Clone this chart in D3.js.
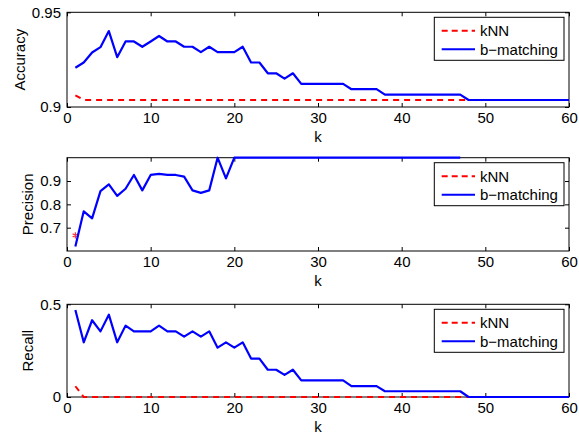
<!DOCTYPE html>
<html>
<head>
<meta charset="utf-8">
<script src="https://cdn.jsdelivr.net/npm/d3@7"></script>
<style>
  body { margin: 0; background: #fff; }
  svg { display: block; font-family: "Liberation Sans", Arial, Helvetica, sans-serif; }
  .tick text { font-size: 15px; fill: #000; }
  .lbl { font-size: 15px; fill: #000; }
</style>
</head>
<body>
<div id="chart"></div>
<script>
// k = 1..60
const ks = d3.range(1, 61)

const accKnn = [0.9062].concat(d3.range(59).map(() => 0.9037))
const accBm = [
  0.9207, 0.9235, 0.9288, 0.9316, 0.9401, 0.9263, 0.9346, 0.9346, 0.9318, 0.9346,
  0.9375, 0.9346, 0.9346, 0.9318, 0.9318, 0.9290, 0.9318, 0.9290, 0.9290, 0.9290,
  0.9318, 0.9235, 0.9235, 0.9178, 0.9178, 0.9150, 0.9178, 0.9122, 0.9122, 0.9122,
  0.9122, 0.9122, 0.9122, 0.9094, 0.9094, 0.9094, 0.9094, 0.9065, 0.9065, 0.9065,
  0.9065, 0.9065, 0.9065, 0.9065, 0.9065, 0.9065, 0.9065, 0.9037, 0.9037, 0.9037,
  0.9037, 0.9037, 0.9037, 0.9037, 0.9037, 0.9037, 0.9037, 0.9037, 0.9037, 0.9037
]

const precKnn = [0.667].concat(d3.range(59).map(() => null))
const precBm = [
  0.619, 0.770, 0.740, 0.857, 0.886, 0.836, 0.867, 0.926, 0.860, 0.926,
  0.931, 0.926, 0.926, 0.919, 0.860, 0.849, 0.860, 1.000, 0.911, 1.000,
  1, 1, 1, 1, 1, 1, 1, 1, 1, 1,
  1, 1, 1, 1, 1, 1, 1, 1, 1, 1,
  1, 1, 1, 1, 1, 1, 1, null, null, null,
  null, null, null, null, null, null, null, null, null, null
]

const recKnn = [0.058].concat(d3.range(59).map(() => 0))
const recBm = [
  0.469, 0.295, 0.414, 0.354, 0.444, 0.295, 0.385, 0.354, 0.354, 0.354,
  0.385, 0.354, 0.354, 0.326, 0.354, 0.326, 0.354, 0.266, 0.295, 0.266,
  0.295, 0.207, 0.207, 0.147, 0.147, 0.119, 0.147, 0.090, 0.090, 0.090,
  0.090, 0.090, 0.090, 0.059, 0.059, 0.059, 0.059, 0.031, 0.031, 0.031,
  0.031, 0.031, 0.031, 0.031, 0.031, 0.031, 0.031, 0, 0, 0,
  0, 0, 0, 0, 0, 0, 0, 0, 0, 0
]

const xTicks = [0, 10, 20, 30, 40, 50, 60]
const seriesNames = ["kNN", "b\u2212matching"]

const panels = [
  { label: "Accuracy", knn: accKnn, bm: accBm, domain: [0.9, 0.95], yTicks: [0.9, 0.95], top: 12.3, bottom: 107, labelX: 20 },
  { label: "Precision", knn: precKnn, bm: precBm, domain: [0.6, 1.0], yTicks: [0.7, 0.8, 0.9], top: 157.7, bottom: 251, labelX: 27.5, starOnly: true },
  { label: "Recall", knn: recKnn, bm: recBm, domain: [0, 0.5], yTicks: [0, 0.5], top: 304.3, bottom: 397, labelX: 27.5 }
]

const width = 579
const height = 437
const left = 67
const right = 569

const svg = d3.select("#chart")
  .append("svg")
  .attr("width", width)
  .attr("height", height)

const x = d3.scaleLinear().domain([0, 60]).range([left, right])

panels.forEach(p => {
  const y = d3.scaleLinear().domain(p.domain).range([p.bottom, p.top])
  const g = svg.append("g")
  const h = p.bottom - p.top

  const fmt = d => String(d)

  // bottom axis, ticks pointing in
  const xb = g.append("g")
    .attr("transform", `translate(0,${p.bottom})`)
    .call(d3.axisBottom(x).tickValues(xTicks).tickSize(-4).tickPadding(5.5).tickFormat(fmt))
  xb.select(".domain").remove()
  xb.selectAll(".tick line").attr("stroke", "#000")

  const xt = g.append("g")
    .attr("transform", `translate(0,${p.top})`)
    .call(d3.axisTop(x).tickValues(xTicks).tickSize(-4).tickFormat(""))
  xt.select(".domain").remove()
  xt.selectAll(".tick line").attr("stroke", "#000")

  const yl = g.append("g")
    .attr("transform", `translate(${left},0)`)
    .call(d3.axisLeft(y).tickValues(p.yTicks).tickSize(-4).tickPadding(6).tickFormat(fmt))
  yl.select(".domain").remove()
  yl.selectAll(".tick line").attr("stroke", "#000")

  const yr = g.append("g")
    .attr("transform", `translate(${right},0)`)
    .call(d3.axisRight(y).tickValues(p.yTicks).tickSize(-4).tickFormat(""))
  yr.select(".domain").remove()
  yr.selectAll(".tick line").attr("stroke", "#000")

  g.append("rect")
    .attr("x", left).attr("y", p.top)
    .attr("width", right - left).attr("height", h)
    .attr("fill", "none").attr("stroke", "#000").attr("stroke-width", 1)

  const line = d3.line()
    .defined(d => d[1] !== null)
    .x(d => x(d[0]))
    .y(d => y(d[1]))

  // kNN
  if (p.starOnly) {
    g.selectAll(".star")
      .data(ks.map((k, i) => [k, p.knn[i]]).filter(d => d[1] !== null))
      .enter()
      .append("path")
      .attr("d", d3.symbol(d3.symbolAsterisk, 28))
      .attr("transform", d => `translate(${x(d[0])},${y(d[1])})`)
      .attr("fill", "none")
      .attr("stroke", "#ff3030")
      .attr("stroke-width", 1.2)
  } else {
    g.append("path")
      .datum(ks.map((k, i) => [k, p.knn[i]]))
      .attr("d", line)
      .attr("fill", "none")
      .attr("stroke", "#ff0000")
      .attr("stroke-width", 2)
      .attr("stroke-dasharray", "6,5")
  }

  // b-matching
  g.append("path")
    .datum(ks.map((k, i) => [k, p.bm[i]]))
    .attr("d", line)
    .attr("fill", "none")
    .attr("stroke", "#0000ff")
    .attr("stroke-width", 2.2)
    .attr("stroke-linejoin", "round")

  g.append("text")
    .attr("class", "lbl")
    .attr("text-anchor", "middle")
    .attr("x", (left + right) / 2)
    .attr("y", p.bottom + 34.5)
    .text("k")

  g.append("text")
    .attr("class", "lbl")
    .attr("text-anchor", "middle")
    .attr("transform", `translate(${p.labelX + 5},${(p.top + p.bottom) / 2}) rotate(-90)`)
    .text(p.label)

  // legend
  const lx = 434.3, ly = p.top + 5, lw = 129.7, lh = 43
  const lg = g.append("g")
  lg.append("rect")
    .attr("x", lx).attr("y", ly).attr("width", lw).attr("height", lh)
    .attr("fill", "#fff").attr("stroke", "#000").attr("stroke-width", 1)

  const rows = [
    { name: seriesNames[0], color: "#ff0000", dash: "6,4", dy: 13.5 },
    { name: seriesNames[1], color: "#0000ff", dash: null, dy: 32 }
  ]
  rows.forEach(r => {
    lg.append("line")
      .attr("x1", 441.7).attr("x2", 475)
      .attr("y1", ly + r.dy).attr("y2", ly + r.dy)
      .attr("stroke", r.color)
      .attr("stroke-width", 2)
      .attr("stroke-dasharray", r.dash)
    lg.append("text")
      .attr("class", "lbl")
      .attr("x", 480)
      .attr("y", ly + r.dy + 5.5)
      .text(r.name)
  })
})
</script>
</body>
</html>
